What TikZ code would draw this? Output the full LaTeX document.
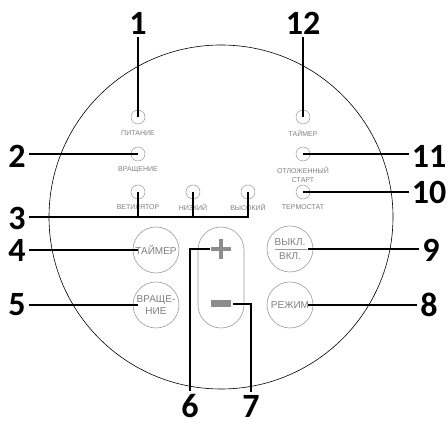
\documentclass[tikz,border=0pt]{standalone}
\usepackage{fontspec}
\setmainfont{Liberation Sans}
\newfontfamily\numfont{Carlito}

\begin{document}
\begin{tikzpicture}[x=1pt,y=-1pt,
    led/.style={circle,draw=black!40,line width=0.5pt,minimum size=14pt,inner sep=0pt},
    ledtext/.style={text=black!50,font=\fontsize{7}{9}\selectfont,align=center,inner sep=0pt},
    knob/.style={circle,draw=black!40,line width=0.6pt,minimum size=46pt,inner sep=0pt,
        text=black!50,font=\fontsize{10}{12}\selectfont,align=center},
    num/.style={font=\numfont\bfseries\fontsize{34}{34}\selectfont,inner sep=3pt},
    callout/.style={line width=2.6pt}]
            \useasboundingbox (0,0) rectangle (448,427);
            \node[circle,draw,line width=0.6pt,minimum size=344pt] (dial) at (221,217) {};

            \node[led] (ledpower) at (138,117) {};
            \node[ledtext] (tpower) at (138,133) {ПИТАНИЕ};
            \node[led] (ledspin) at (138,154) {};
            \node[ledtext] (tspin) at (138,170) {ВРАЩЕНИЕ};
            \node[led] (ledfan) at (138,192) {};
            \node[ledtext] (tfan) at (138,207) {ВЕТИЛЯТОР};
            \node[led] (ledlow) at (193,192) {};
            \node[ledtext] (tlow) at (193,207) {НИЗКИЙ};
            \node[led] (ledhigh) at (248,192) {};
            \node[ledtext] (thigh) at (248,207) {ВЫСОКИЙ};
            \node[led] (ledtimer) at (303,117) {};
            \node[ledtext] (ttimer) at (303,133) {ТАЙМЕР};
            \node[led] (leddelay) at (303,154) {};
            \node[ledtext] (tdelay) at (303,174.5) {ОТЛОЖЕННЫЙ\\СТАРТ};
            \node[led] (ledthermo) at (303,192) {};
            \node[ledtext] (tthermo) at (303,207) {ТЕРМОСТАТ};

            \node[knob] (knobtimer) at (156,250) {ТАЙМЕР};
            \node[knob] (knobspin) at (156,305) {ВРАЩЕ-\\НИЕ};
            \node[knob] (knobonoff) at (290,249) {ВЫКЛ.\\[2pt]ВКЛ.};
            \draw[black!40,line width=0.6pt] (275,249) -- (307,249);
            \node[knob] (knobmode) at (290,305) {РЕЖИМ};

            \node[draw=black!40,line width=0.6pt,rounded corners=23pt,minimum width=46pt,minimum height=101pt] (pill) at (221,277.5) {};
            \coordinate (plus) at (221,249);
            \coordinate (minus) at (221,304);
            \draw[black!45,line width=4pt] ([xshift=-10pt]plus) -- ([xshift=10pt]plus);
            \draw[black!45,line width=4pt] ([yshift=-10pt]plus) -- ([yshift=10pt]plus);
            \fill[black!45] ([xshift=-10pt,yshift=-3.5pt]minus) rectangle ([xshift=10pt,yshift=3.5pt]minus);

            \node[num] (n1) at (138,23) {1};
            \node[num] (n12) at (303,23) {12};
            \node[num] (n2) at (17,156) {2};
            \node[num] (n11) at (429,156) {11};
            \node[num] (n10) at (429,192) {10};
            \node[num] (n3) at (17,218) {3};
            \node[num] (n4) at (17,250) {4};
            \node[num] (n5) at (17,305) {5};
            \node[num] (n9) at (431,250) {9};
            \node[num] (n8) at (429,305) {8};
            \node[num] (n6) at (190,406) {6};
            \node[num] (n7) at (251,406) {7};

            \draw[callout] (n1.south) -- (ledpower.center);
            \draw[callout] (n12.south) -- (ledtimer.center);
            \draw[callout] (n2.east |- ledspin) -- (ledspin.center);
            \draw[callout] (n11.west |- leddelay) -- (leddelay.center);
            \draw[callout] (n10.west |- ledthermo) -- (ledthermo.center);
            \draw[callout] (n3.east |- 0,217) -| (ledhigh.center);
            \draw[callout] (ledfan.center) -- (ledfan |- 0,217);
            \draw[callout] (ledlow.center) -- (ledlow |- 0,217);
            \draw[callout] (n4.east |- knobtimer) -- ([xshift=5pt]knobtimer.west);
            \draw[callout] (n5.east |- knobspin) -- ([xshift=5pt]knobspin.west);
            \draw[callout] (n9.west |- knobonoff) -- ([xshift=-5pt]knobonoff.east);
            \draw[callout] (n8.west |- knobmode) -- ([xshift=-5pt]knobmode.east);
            \draw[callout] (n6.north) |- ([xshift=-11pt]plus);
            \draw[callout] (n7.north) |- ([xshift=12pt]minus);
        \end{tikzpicture}
\end{document}
